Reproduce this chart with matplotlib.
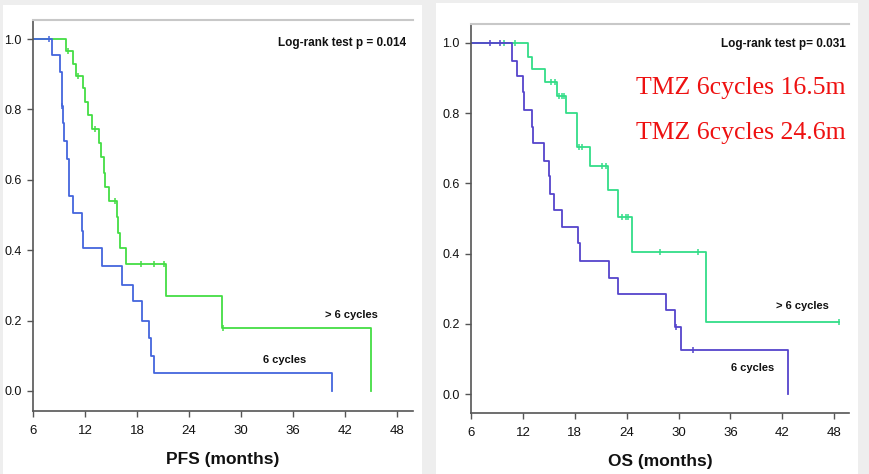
import numpy as np
import matplotlib
matplotlib.use("Agg")
from matplotlib import pyplot as plt
from matplotlib.patches import Rectangle

#%% data
# PFS, > 6 cycles (green)
pfs_g_t = [9.8, 10.6, 11.0, 11.8, 11.95, 12.3, 12.8, 13.6, 13.85, 14.15, 14.3, 14.8, 15.65, 15.8, 16.0, 16.75, 21.35, 27.8, 45.0]
pfs_g_s = [0.965, 0.93, 0.895, 0.86, 0.82, 0.785, 0.745, 0.705, 0.665, 0.62, 0.58, 0.54, 0.495, 0.45, 0.405, 0.36, 0.27, 0.18, 0.0]
pfs_g_cens = [10.0, 11.2, 13.1, 15.4, 18.45, 20.0, 21.1, 27.9]

# PFS, 6 cycles (blue)
pfs_b_t = [8.15, 9.1, 9.3, 9.45, 9.55, 9.9, 10.1, 10.2, 10.6, 11.7, 11.8, 13.9, 16.3, 17.55, 18.6, 19.4, 19.55, 19.9, 40.5]
pfs_b_s = [0.955, 0.905, 0.81, 0.76, 0.71, 0.66, 0.61, 0.555, 0.505, 0.455, 0.405, 0.355, 0.30, 0.255, 0.20, 0.15, 0.10, 0.05, 0.0]
pfs_b_cens = [7.9, 9.35]

# OS, > 6 cycles (green)
os_g_t = [12.6, 13.0, 14.5, 16.0, 17.0, 18.3, 19.7, 21.85, 23.0, 24.6, 33.2]
os_g_s = [0.96, 0.925, 0.888, 0.85, 0.80, 0.705, 0.65, 0.58, 0.505, 0.405, 0.205]
os_g_cens = [9.8, 11.1, 15.3, 15.7, 16.2, 16.5, 16.8, 18.45, 18.85, 21.15, 21.6, 23.5, 23.9, 24.2, 27.8, 32.3, 48.6]

# OS, 6 cycles (blue)
os_b_t = [10.7, 11.3, 12.0, 12.1, 13.1, 13.2, 14.4, 15.0, 15.1, 15.6, 16.5, 18.4, 18.65, 21.9, 23.0, 28.5, 29.6, 30.3, 42.6]
os_b_s = [0.95, 0.905, 0.86, 0.81, 0.76, 0.715, 0.665, 0.62, 0.57, 0.525, 0.475, 0.43, 0.38, 0.33, 0.285, 0.24, 0.19, 0.125, 0.0]
os_b_cens = [8.2, 9.4, 29.7, 31.65]

xticks = [6, 12, 18, 24, 30, 36, 42, 48]
yticks = [0.0, 0.2, 0.4, 0.6, 0.8, 1.0]

sans = 'Liberation Sans'

#%%
def surv_at(t, times, surv):
    s = 1.0
    for ti, si in zip(times, surv):
        if ti <= t:
            s = si
    return s

def draw_curve(ax, times, surv, cens, color, end=None):
    x = [0] + list(times)
    y = [1.0] + list(surv)
    if end is not None:
        x.append(end)
        y.append(y[-1])
    ax.step(x, y, where='post', color=color, lw=1.3)
    cy = [surv_at(c, times, surv) for c in cens]
    ax.plot(cens, cy, ls='none', marker='|', ms=5, mew=1.1, color=color)

def setup(ax, xlabel, xmax, ymin):
    ax.set_xlim(6, xmax)
    ax.set_ylim(ymin, 1.054)
    ax.set_xticks(xticks)
    ax.set_yticks(yticks)
    ax.set_yticklabels(['%.1f' % v for v in yticks])
    for sp in ['left', 'bottom']:
        ax.spines[sp].set_color('#555555')
        ax.spines[sp].set_linewidth(1.2)
    ax.spines['right'].set_visible(False)
    ax.spines['top'].set_color('#c8c8c8')
    ax.spines['top'].set_linewidth(1.5)
    ax.tick_params(direction='out', length=4, width=1, color='#555555', labelcolor='#111111', pad=4)
    ax.tick_params(axis='x', pad=6)
    for lab in ax.get_xticklabels():
        lab.set_family(sans)
        lab.set_fontsize(9.5)
    for lab in ax.get_yticklabels():
        lab.set_family(sans)
        lab.set_fontsize(9)
    ax.set_xlabel(xlabel, family=sans, fontsize=12.5, fontweight='bold', labelpad=11, color='#111111')

#%%
fig = plt.figure(figsize=(8.7, 4.74), dpi=100)
fig.patch.set_facecolor('#eeeeee')
fig.patches.append(Rectangle((3/870, 0), 419/870, 469/474, transform=fig.transFigure,
                             facecolor='white', edgecolor='none', zorder=-10))
fig.patches.append(Rectangle((436/870, 0), 422/870, 471/474, transform=fig.transFigure,
                             facecolor='white', edgecolor='none', zorder=-10))

ax1 = fig.add_axes([33/870, 63/474, 380/870, 391/474])
ax2 = fig.add_axes([471/870, 61/474, 378/870, 389/474])
for ax in (ax1, ax2):
    ax.set_facecolor('none')

# PFS panel
draw_curve(ax1, pfs_g_t, pfs_g_s, pfs_g_cens, '#44dd44')
draw_curve(ax1, pfs_b_t, pfs_b_s, pfs_b_cens, '#4466dd')
setup(ax1, 'PFS (months)', 49.8, -0.057)
ax1.text(49.0, 0.99, 'Log-rank test p = 0.014', ha='right', va='center',
         family=sans, fontsize=8.5, fontweight='bold', color='#111111')
ax1.text(42.7, 0.216, '> 6 cycles', ha='center', va='center',
         family=sans, fontsize=8, fontweight='bold', color='#111111')
ax1.text(35.0, 0.088, '6 cycles', ha='center', va='center',
         family=sans, fontsize=8, fontweight='bold', color='#111111')

# OS panel
draw_curve(ax2, os_g_t, os_g_s, os_g_cens, '#33dd88', end=48.6)
draw_curve(ax2, os_b_t, os_b_s, os_b_cens, '#5544cc')
setup(ax2, 'OS (months)', 49.7, -0.054)
ax2.text(49.35, 0.998, 'Log-rank test p= 0.031', ha='right', va='center',
         family=sans, fontsize=8.5, fontweight='bold', color='#111111')
ax2.text(44.3, 0.25, '> 6 cycles', ha='center', va='center',
         family=sans, fontsize=8, fontweight='bold', color='#111111')
ax2.text(38.6, 0.074, '6 cycles', ha='center', va='center',
         family=sans, fontsize=8, fontweight='bold', color='#111111')
ax2.text(49.35, 0.872, 'TMZ 6cycles 16.5m', ha='right', va='center',
         family='Liberation Serif', fontsize=18.5, color='#ee1111')
ax2.text(49.35, 0.744, 'TMZ 6cycles 24.6m', ha='right', va='center',
         family='Liberation Serif', fontsize=18.5, color='#ee1111')

fig.savefig('out.png', dpi=100, facecolor=fig.get_facecolor())
